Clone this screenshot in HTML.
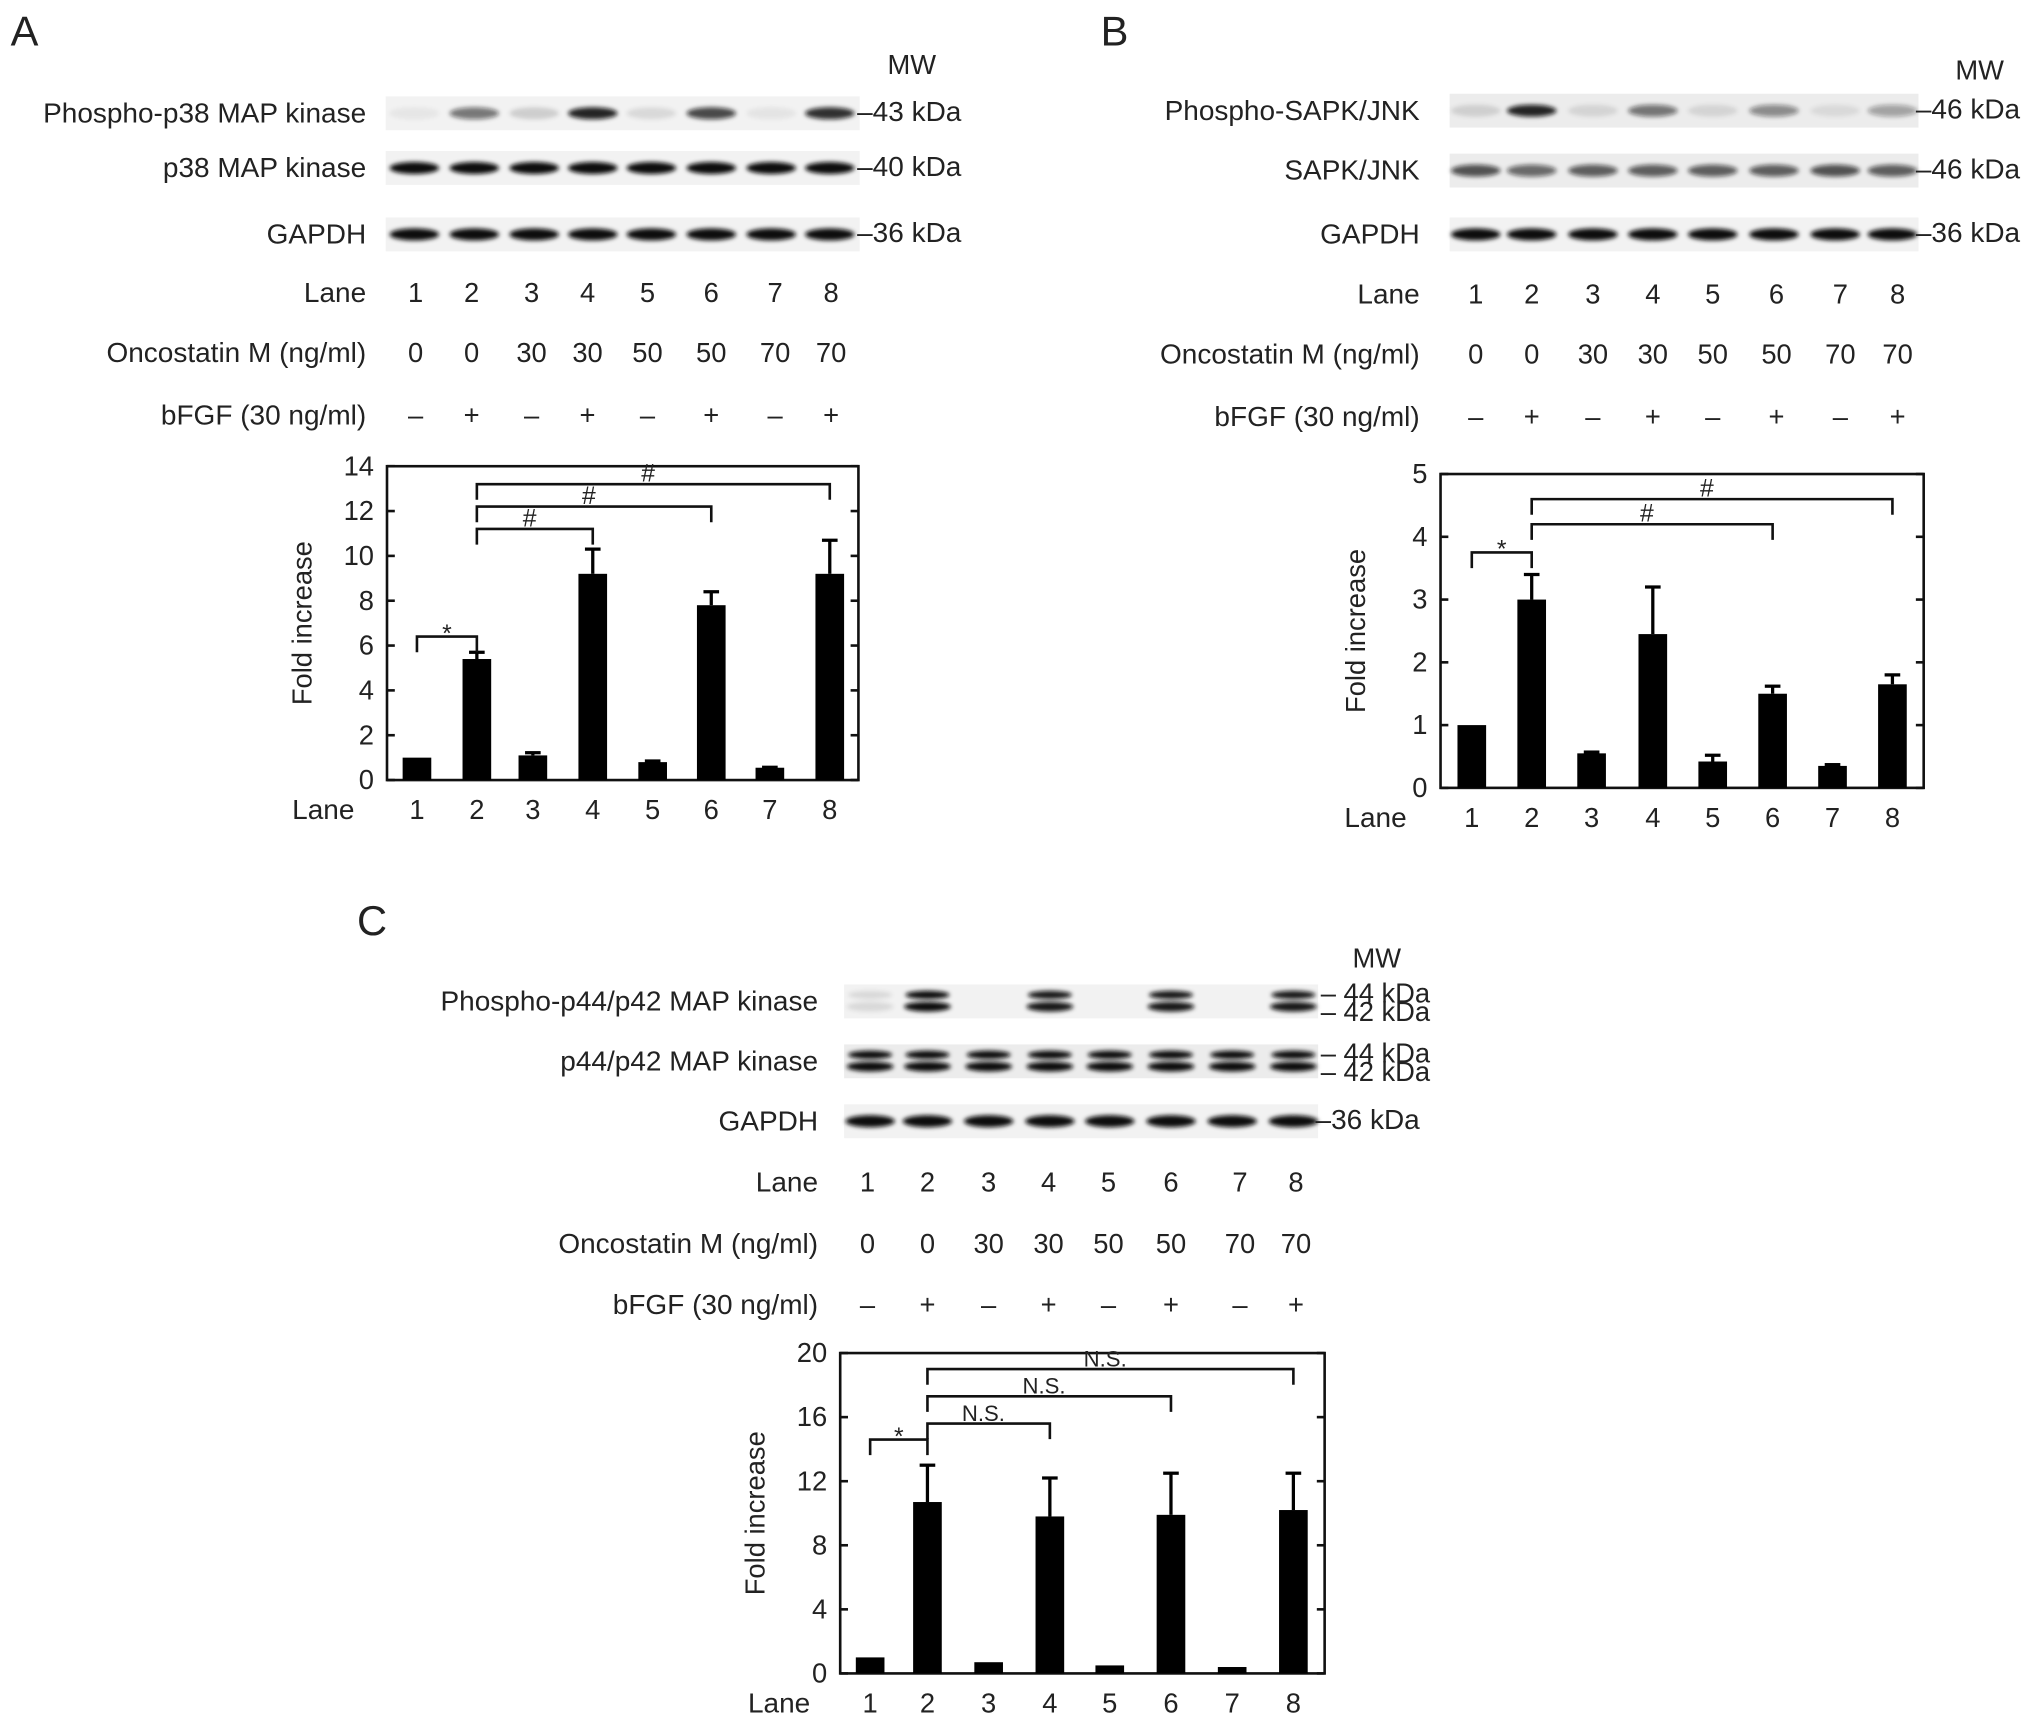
<!DOCTYPE html>
<html><head><meta charset="utf-8"><style>
html,body{margin:0;padding:0;background:#fff;}
svg{display:block;}
text{font-family:"Liberation Sans",sans-serif;fill:#222;}
</style></head><body>
<svg id="fig" width="2032" height="1719" viewBox="0 0 1560 1320" xmlns="http://www.w3.org/2000/svg">
<defs><filter id="blur" x="-20%" y="-50%" width="140%" height="200%"><feGaussianBlur stdDeviation="1.6"/></filter></defs>
<g id="root"></g>
</svg>
<script>
// ---- data ----
const lanes = [1,2,3,4,5,6,7,8];
const oncostatin = ["0","0","30","30","50","50","70","70"];
const bfgf = ["–","+","–","+","–","+","–","+"];
const aValues = [1.0,5.4,1.1,9.2,0.8,7.8,0.55,9.2];
const aErrors = [0,0.3,0.12,1.1,0.05,0.6,0.02,1.5];
const aTicks = [0,2,4,6,8,10,12,14];
const bValues = [1.0,3.0,0.55,2.45,0.42,1.5,0.35,1.65];
const bErrors = [0,0.4,0.02,0.75,0.1,0.12,0.02,0.15];
const bTicks = [0,1,2,3,4,5];
const cValues = [1.0,10.7,0.7,9.8,0.5,9.9,0.4,10.2];
const cErrors = [0,2.3,0,2.4,0,2.6,0,2.3];
const cTicks = [0,4,8,12,16,20];
const aBrackets = [[1,2,6.4,"*"],[2,4,11.2,"#"],[2,6,12.2,"#"],[2,8,13.2,"#"]];
const bBrackets = [[1,2,3.75,"*"],[2,6,4.2,"#"],[2,8,4.6,"#"]];
const cBrackets = [[1,2,14.6,"*"],[2,4,15.6,"N.S."],[2,6,17.3,"N.S."],[2,8,19,"N.S."]];
const aPhospho = [0.05,0.55,0.15,0.9,0.1,0.75,0.06,0.85];
const bPhospho = [0.12,0.9,0.1,0.55,0.1,0.45,0.08,0.35];
const cPhospho = [0.1,1,0,0.95,0,0.95,0,0.95];

const NS="http://www.w3.org/2000/svg";
const root=document.getElementById('root');
function el(tag,attrs,parent){const e=document.createElementNS(NS,tag);for(const k in attrs)e.setAttribute(k,attrs[k]);(parent||root).appendChild(e);return e;}
function txt(x,y,s,size,anchor,parent){const t=el('text',{x:x,y:y,'font-size':size,'text-anchor':anchor||'start'},parent);t.textContent=s;return t;}

function panelLetter(x,y,s){const t=txt(x,y,s,32);}

function blotRow(g,x0,x1,y,label,labelX,lanesX,intens,kda,double,grey){
  const r=el('rect',{x:x0,y:y-13,width:x1-x0,height:26,fill:grey||'#f2f2f2'},g);
  
  
  txt(labelX,y+7,label,21.5,'end',g);
  lanesX.forEach((lx,i)=>{
    const o=intens[i]; if(o<=0)return;
    if(double){
      el('ellipse',{cx:lx,cy:y-5,rx:17,ry:3.2,fill:'#111','fill-opacity':o,filter:'url(#blur)'},g);
      el('ellipse',{cx:lx,cy:y+4,rx:18,ry:3.8,fill:'#111','fill-opacity':o,filter:'url(#blur)'},g);
    } else {
      el('ellipse',{cx:lx,cy:y,rx:19,ry:4.6,fill:'#111','fill-opacity':o,filter:'url(#blur)'},g);
    }
  });
  if(double){txt(x1+2,y+1,"– 44 kDa",21,'start',g);txt(x1+2,y+15,"– 42 kDa",21,'start',g);}
  else txt(x1-2,y+6,kda,21.5,'start',g);
}

function panel(cfg){
  const g=el('g',{});
  
  
  const bl=el('g',{},g);
  
  
  txt(cfg.mwX,cfg.mwY,"MW",21,'middle',bl);
  cfg.rows.forEach(r=>blotRow(bl,cfg.bx0,cfg.bx1,r.y,r.label,cfg.labelX,cfg.blotLanes,r.int,r.kda,r.double,r.grey));
  const tbl=el('g',{},g);
  
  
  const rowLabels=["Lane","Oncostatin M (ng/ml)","bFGF (30 ng/ml)"];
  const rowVals=[lanes.map(String),oncostatin,bfgf];
  cfg.tableY.forEach((ty,ri)=>{
    txt(cfg.labelX,ty+7,rowLabels[ri],21.5,'end',tbl);
    rowVals[ri].forEach((v,i)=>txt(cfg.tableLanes[i],ty+7,v,21,'middle',tbl));
  });
  const ch=el('g',{},g);
  
  
  const {fx0,fx1,fy0,fy1,ymax}=cfg;
  const ys=v=>fy1-(v/ymax)*(fy1-fy0);
  const xs=i=>cfg.chartLanes[i];
  const fr=el('rect',{x:fx0,y:fy0,width:fx1-fx0,height:fy1-fy0,fill:'none',stroke:'#111','stroke-width':2},ch);
  
  
  cfg.ticks.forEach(t=>{
    const y=ys(t);
    el('line',{x1:fx0,x2:fx0+6,y1:y,y2:y,stroke:'#111','stroke-width':2},ch);
    el('line',{x1:fx1-6,x2:fx1,y1:y,y2:y,stroke:'#111','stroke-width':2},ch);
    const tl=txt(fx0-10,y+7,String(t),21,'end',ch);
    
    
  });
  const yt=txt(0,0,"Fold increase",21,'middle',ch);
  yt.setAttribute('transform',`translate(${fx0-58},${(fy0+fy1)/2}) rotate(-90)`);
  
  
  txt(cfg.laneLabelX,fy1+30,"Lane",21.5,'end',ch);
  cfg.values.forEach((v,i)=>{
    const x=xs(i),bw=22,top=ys(v);
    const b=el('rect',{x:x-bw/2,y:top,width:bw,height:fy1-top,fill:'#000'},ch);
    
    
    const e=cfg.errors[i];
    if(e>0){
      const et=ys(v+e);
      el('line',{x1:x,x2:x,y1:top,y2:et,stroke:'#000','stroke-width':2.5},ch);
      el('line',{x1:x-6,x2:x+6,y1:et,y2:et,stroke:'#000','stroke-width':2.5},ch);
    }
    const xl=txt(x,fy1+30,String(lanes[i]),21,'middle',ch);
    
    
  });
  cfg.brackets.forEach(b=>{
    const x1=xs(b[0]-1),x2=xs(b[1]-1),y=ys(b[2]);
    const p=el('path',{d:`M${x1},${y+12}V${y}H${x2}V${y+12}`,fill:'none',stroke:'#111','stroke-width':2},ch);
    
    
    const s=txt((x1+x2)/2+(b[3]==="*"?0:-4),y-2+(b[3]==="*"?6:0),b[3],b[3]==="N.S."?17:19,'middle',ch);
    s.setAttribute('fill','#444');
  });
}

panelLetter(8,35,"A");panelLetter(845,35,"B");panelLetter(274,718,"C");

panel({name:'panel-a',mwX:700,mwY:57,bx0:296,bx1:660,labelX:281,
  blotLanes:[318,364,410,455,500,546,592,637],
  rows:[{y:87,label:"Phospho-p38 MAP kinase",int:aPhospho,kda:"–43 kDa"},
        {y:129,label:"p38 MAP kinase",int:[1,1,1,1,1,1,1,1],kda:"–40 kDa"},
        {y:180,label:"GAPDH",int:[1,1,1,1,1,1,1,1],kda:"–36 kDa"}],
  tableY:[225,271,319],tableLanes:[319,362,408,451,497,546,595,638],
  fx0:297,fx1:659,fy0:358,fy1:599,ymax:14,ticks:aTicks,values:aValues,errors:aErrors,
  chartLanes:[320,366,409,455,501,546,591,637],brackets:aBrackets,laneLabelX:272});

panel({name:'panel-b',mwX:1520,mwY:61,bx0:1113,bx1:1473,labelX:1090,
  blotLanes:[1133,1176,1223,1269,1315,1362,1409,1453],
  rows:[{y:85,label:"Phospho-SAPK/JNK",int:bPhospho,kda:"–46 kDa",grey:'#ececec'},
        {y:131,label:"SAPK/JNK",int:[0.7,0.6,0.65,0.65,0.65,0.65,0.7,0.65],kda:"–46 kDa",grey:'#ececec'},
        {y:180,label:"GAPDH",int:[1,1,1,1,1,1,1,1],kda:"–36 kDa"}],
  tableY:[226,272,320],tableLanes:[1133,1176,1223,1269,1315,1364,1413,1457],
  fx0:1106,fx1:1477,fy0:364,fy1:605,ymax:5,ticks:bTicks,values:bValues,errors:bErrors,
  chartLanes:[1130,1176,1222,1269,1315,1361,1407,1453],brackets:bBrackets,laneLabelX:1080});

panel({name:'panel-c',mwX:1057,mwY:743,bx0:648,bx1:1012,labelX:628,
  blotLanes:[668,712,759,806,852,899,946,993],
  rows:[{y:769,label:"Phospho-p44/p42 MAP kinase",int:cPhospho,double:true},
        {y:815,label:"p44/p42 MAP kinase",int:[1,1,1,1,1,1,1,1],double:true,grey:'#ececec'},
        {y:861,label:"GAPDH",int:[1,1,1,1,1,1,1,1],kda:"–36 kDa"}],
  tableY:[908,955,1002],tableLanes:[666,712,759,805,851,899,952,995],
  fx0:645,fx1:1017,fy0:1039,fy1:1285,ymax:20,ticks:cTicks,values:cValues,errors:cErrors,
  chartLanes:[668,712,759,806,852,899,946,993],brackets:cBrackets,laneLabelX:622});
</script>
</body></html>
